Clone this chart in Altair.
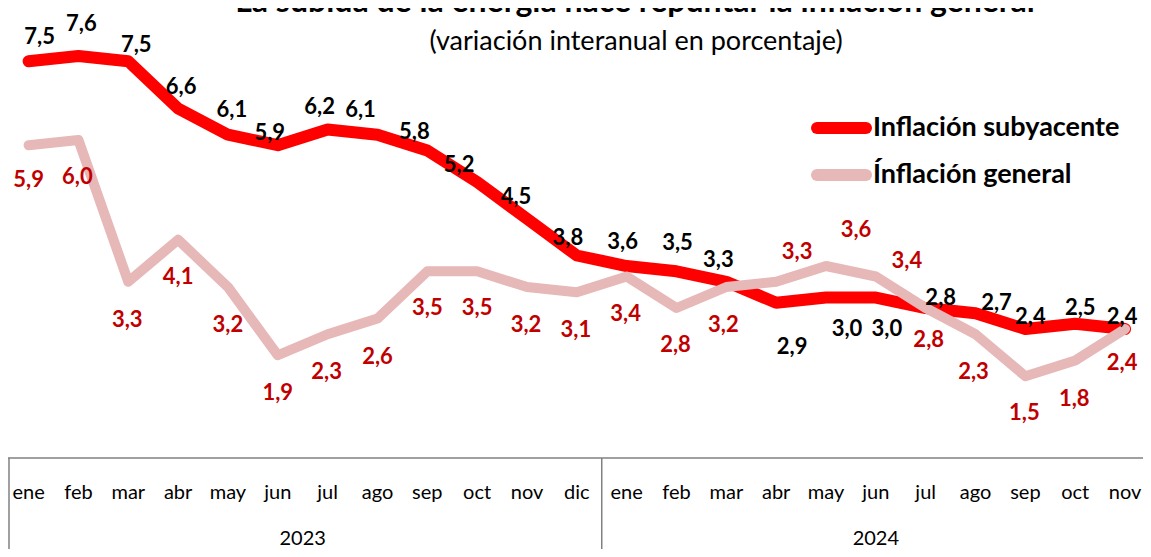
import altair as alt
import pandas as pd

# ---- data ----
months = ["ene", "feb", "mar", "abr", "may", "jun", "jul", "ago", "sep", "oct", "nov", "dic"]
month_labels = months + months[:11]
years = ["2023"] * 12 + ["2024"] * 11
subyacente = [7.5, 7.6, 7.5, 6.6, 6.1, 5.9, 6.2, 6.1, 5.8, 5.2, 4.5, 3.8,
              3.6, 3.5, 3.3, 2.9, 3.0, 3.0, 2.8, 2.7, 2.4, 2.5, 2.4]
general = [5.9, 6.0, 3.3, 4.1, 3.2, 1.9, 2.3, 2.6, 3.5, 3.5, 3.2, 3.1,
           3.4, 2.8, 3.2, 3.3, 3.6, 3.4, 2.8, 2.3, 1.5, 1.8, 2.4]
series_names = ["Inflación subyacente", "Ínflación general"]

# ---- label placement (pixel nudges, as in the original) ----
sub_label_dx = [11, 3, 8, 3, 4, -8, -8, -17, -13, -18, -11, -9, -4, 1, -8, 16, 21, 11, 15, 21, 5, 5, -3]
sub_label_dy = [-24, -32, -16, -21, -25, -12, -22, -25, -18, -17, -22, -18, -24, -28, -22, 44, 31, 31, -10, -10, -12, -16, -12]
gen_label_dx = [0, -1, -1, 0, 0, 0, -1, 0, 0, 0, -1, -1, -1, -1, -3, 21, 30, 31, 3, -2, -1, -1, -3]
gen_label_dy = [35, 37, 38, 37, 38, 38, 38, 38, 37, 37, 38, 38, 37, 37, 38, -30, -36, -16, 32, 38, 37, 38, 34]

RED = "#FF0000"
PINK = "#E6B8B7"
LABEL_RED = "#C00000"
FONT = "Lato"

idx = list(range(len(month_labels)))
df_sub = pd.DataFrame({"idx": idx, "value": subyacente})
df_gen = pd.DataFrame({"idx": idx, "value": general})
df_months = pd.DataFrame({"idx": idx, "mes": month_labels, "year": years})
df_years = df_months.groupby("year", as_index=False)["idx"].mean()
df_sep = pd.DataFrame({"idx": [11.5]})
df_one = pd.DataFrame({"k": [0]})

xs = alt.Scale(domain=[-0.413, 22.36], nice=False, zero=False)
ys = alt.Scale(domain=[-1.79, 8.514], nice=False, zero=False)
X = alt.X("idx:Q", scale=xs, axis=None)
Y = alt.Y("value:Q", scale=ys, axis=None)

sub_line = alt.Chart(df_sub).mark_line(
    color=RED, strokeWidth=12, strokeCap="round", strokeJoin="round"
).encode(x=X, y=Y)
gen_line = alt.Chart(df_gen).mark_line(
    color=PINK, strokeWidth=10, strokeCap="round", strokeJoin="round"
).encode(x=X, y=Y)

label_calc = "replace(format(datum.value, '.1f'), '.', ',')"


def label_layers(df, dxs, dys, color):
    layers = []
    for i in range(len(df)):
        layers.append(
            alt.Chart(df)
            .transform_filter(f"datum.idx == {i}")
            .transform_calculate(lab=label_calc)
            .mark_text(font=FONT, fontSize=22, fontWeight="bold", color=color,
                       baseline="middle", align="center", dx=dxs[i], dy=dys[i])
            .encode(x=X, y=Y, text="lab:N")
        )
    return layers


sub_labels = label_layers(df_sub, sub_label_dx, sub_label_dy, "black")
gen_labels = label_layers(df_gen, gen_label_dx, gen_label_dy, LABEL_RED)

# ---- table-like category axis ----
GRID = "#808080"
top_rule = alt.Chart(df_one).mark_rule(color=GRID, strokeWidth=1.5).encode(
    x=alt.value(0), x2=alt.value(1135), y=alt.value(450))
left_rule = alt.Chart(df_one).mark_rule(color=GRID, strokeWidth=1.5).encode(
    x=alt.value(1), y=alt.value(450), y2=alt.value(541))
sep_rule = alt.Chart(df_sep).mark_rule(color=GRID, strokeWidth=1.5).encode(
    x=X, y=alt.value(450), y2=alt.value(541))
month_text = alt.Chart(df_months).mark_text(
    font=FONT, fontSize=20, color="black", baseline="middle"
).encode(x=X, y=alt.value(485), text="mes:N")
year_text = alt.Chart(df_years).mark_text(
    font=FONT, fontSize=20, color="black", baseline="middle"
).encode(x=X, y=alt.value(531), text="year:N")

# ---- legend ----
leg_sub_line = alt.Chart(df_one).mark_rule(color=RED, strokeWidth=12, strokeCap="round").encode(
    x=alt.value(809), x2=alt.value(858), y=alt.value(120))
leg_gen_line = alt.Chart(df_one).mark_rule(color=PINK, strokeWidth=12, strokeCap="round").encode(
    x=alt.value(809), x2=alt.value(858), y=alt.value(167))
leg_sub_text = alt.Chart(df_one).mark_text(
    font=FONT, fontSize=27, fontWeight="bold", color="black", align="left", baseline="middle"
).encode(x=alt.value(865), y=alt.value(120), text=alt.value(series_names[0]))
leg_gen_text = alt.Chart(df_one).mark_text(
    font=FONT, fontSize=27, fontWeight="bold", color="black", align="left", baseline="middle"
).encode(x=alt.value(865), y=alt.value(167), text=alt.value(series_names[1]))

# ---- titles ----
title = alt.Chart(df_one).mark_text(
    font=FONT, fontSize=32, fontWeight="bold", color="black", align="center", baseline="alphabetic"
).encode(x=alt.value(627), y=alt.value(4),
         text=alt.value("La subida de la energía hace repuntar la inflación general"))
subtitle = alt.Chart(df_one).mark_text(
    font=FONT, fontSize=27, color="black", align="center", baseline="middle"
).encode(x=alt.value(628), y=alt.value(34),
         text=alt.value("(variación interanual en porcentaje)"))

chart = alt.layer(
    top_rule, left_rule, sep_rule, month_text, year_text,
    sub_line, gen_line, *sub_labels, *gen_labels,
    leg_sub_line, leg_gen_line, leg_sub_text, leg_gen_text,
    title, subtitle,
).properties(
    width=1135, height=541, autosize=alt.AutoSizeParams(type="none"), padding=0
).configure_view(stroke=None)

chart.save("out.html", embed_options={"renderer": "svg", "actions": False})
